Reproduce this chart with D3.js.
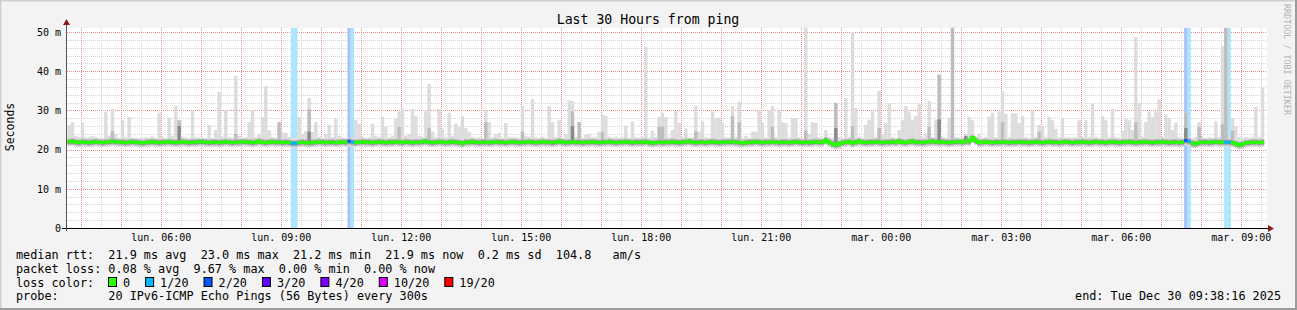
<!DOCTYPE html>
<html lang="fr">
<head>
<meta charset="UTF-8">
<title>Last 30 Hours from ping</title>
<style>
  body { margin: 0; background: #f3f3f3; }
  svg text { font-family: "DejaVu Sans Mono", monospace; white-space: pre; }
</style>
</head>
<body>
<script src="https://cdn.jsdelivr.net/npm/d3@7"></script>
<script>
// 5-minute slots from Mon 29 Dec 03:40 UTC, values in ms
const medianMs = [
  22.0,22.1,21.9,21.8,22.0,21.9,21.8,21.9,22.0,21.9,21.8,21.9,22.0,22.1,22.0,21.9,21.9,21.8,21.9,22.0,21.9,21.8,21.7,21.8,21.9,22.0,21.9,21.8,21.9,21.9,
  22.0,21.9,21.8,21.9,22.0,21.9,21.8,21.9,21.9,22.0,22.0,21.9,21.8,21.9,21.9,21.8,21.9,22.0,21.9,21.8,21.9,21.9,22.0,22.0,21.9,21.8,21.9,22.1,21.9,21.8,
  21.9,22.0,21.9,21.9,21.8,21.9,21.8,21.6,21.6,21.8,21.9,21.8,21.7,21.8,21.9,22.0,21.9,21.8,21.9,21.9,21.8,21.9,22.0,21.9,22.1,21.9,21.8,21.9,22.0,21.9,
  21.9,21.8,21.9,22.0,21.9,21.8,21.9,21.9,22.0,21.9,21.8,22.0,21.9,21.8,21.9,21.9,22.0,22.1,21.9,21.8,21.9,22.0,21.9,21.8,21.9,22.0,21.9,21.8,21.6,21.9,
  21.9,22.0,21.9,21.8,21.9,21.9,21.8,21.9,22.0,21.9,21.9,21.8,21.9,22.0,21.9,21.8,21.9,21.9,22.0,21.9,21.8,21.9,22.0,21.9,21.9,21.8,21.9,22.1,21.9,21.8,
  21.9,22.0,21.9,21.9,21.8,21.9,21.9,22.0,21.9,21.8,21.9,21.9,22.0,21.9,21.8,21.9,21.9,22.0,21.9,21.8,21.9,21.9,21.9,22.0,21.8,21.7,21.8,21.9,21.8,21.9,
  21.9,22.0,21.9,21.8,21.9,22.0,22.1,21.9,21.8,21.9,21.9,21.8,21.9,22.0,21.9,21.8,21.9,21.9,22.0,22.0,21.9,21.8,21.7,21.8,21.9,21.9,22.0,21.9,21.8,21.9,
  21.9,22.0,21.9,21.8,21.9,21.9,21.8,21.9,22.0,21.9,21.8,21.9,21.8,21.9,22.0,21.9,21.9,22.4,21.9,21.5,21.2,21.4,21.8,21.9,22.0,21.7,21.9,22.1,21.9,21.8,
  21.9,21.9,22.0,21.9,21.8,21.9,21.9,22.0,21.9,22.1,21.9,21.8,22.0,22.1,21.9,21.9,21.8,21.9,22.0,22.1,22.0,21.9,22.0,21.9,21.8,21.9,22.0,22.0,21.9,22.1,
  22.1,23.0,22.3,21.8,21.9,22.0,21.9,21.8,21.9,21.9,22.0,21.9,21.8,21.9,21.9,22.0,21.9,21.9,21.8,21.9,22.0,21.9,21.8,21.9,22.0,21.9,21.9,21.8,21.9,22.0,
  21.9,21.8,21.9,21.9,22.0,21.9,21.8,21.9,22.0,21.9,21.9,21.8,21.9,22.0,21.9,21.8,21.9,21.9,22.0,21.9,21.8,21.9,21.9,22.0,21.9,21.8,21.9,21.9,22.0,21.9,
  21.8,21.9,21.9,21.8,21.9,22.3,22.1,21.6,21.5,21.8,21.9,21.9,21.8,21.9,22.0,21.9,21.9,21.9,21.9,21.8,21.5,21.2,21.4,21.7,21.8,21.9,21.9,21.8,21.9
];

const smokeMax = [
  26.3,27.0,23.5,23.2,27.0,23.2,23.2,23.5,23.2,23.0,23.0,29.7,23.5,30.4,24.0,23.0,27.5,23.2,28.3,23.0,23.0,23.0,23.0,23.2,23.0,23.4,23.0,29.4,23.2,23.0,
  28.1,23.5,31.1,27.5,23.2,23.0,23.0,29.8,23.2,23.0,23.0,23.0,26.3,23.0,25.0,34.7,23.3,30.1,23.2,23.0,38.8,23.5,23.0,23.2,27.0,30.1,23.2,24.0,28.3,36.2,
  25.0,23.2,23.0,27.0,24.3,24.3,23.2,23.0,23.0,28.3,24.0,24.7,33.2,24.5,27.0,23.2,23.0,24.0,26.3,23.2,27.8,23.5,23.0,23.0,23.0,23.2,27.5,26.6,23.2,23.0,
  23.2,26.6,23.5,23.2,28.4,25.8,23.2,23.5,27.8,29.7,30.4,23.5,24.0,30.4,28.6,23.5,23.2,29.8,36.7,24.6,23.2,30.4,25.2,23.2,29.4,23.5,26.6,25.8,28.6,25.5,
  24.5,23.2,23.0,23.2,23.0,30.1,27.0,23.2,23.8,24.3,23.0,26.8,23.2,23.0,23.2,23.0,31.1,23.5,23.2,32.9,23.2,23.0,23.2,23.0,31.1,27.0,23.2,27.5,23.0,24.0,
  32.6,32.4,23.2,27.0,23.0,23.8,24.0,23.0,23.2,24.6,29.0,28.6,23.2,23.0,23.3,23.0,23.2,26.0,23.0,27.2,23.2,23.0,23.2,46.2,23.0,24.8,23.2,28.3,29.3,28.3,
  23.2,25.0,29.8,26.8,23.2,25.4,23.0,23.2,31.1,24.6,27.2,23.2,23.0,29.7,28.1,28.1,26.8,23.2,23.0,31.1,23.2,32.2,23.0,23.5,23.0,24.6,24.6,30.1,26.9,23.2,
  30.1,31.1,23.2,30.2,27.0,26.8,23.2,28.0,28.0,23.2,23.0,51.1,24.0,27.0,26.8,23.2,23.0,25.0,23.2,23.0,31.9,23.2,23.0,33.2,23.2,50.0,30.6,23.2,23.0,26.3,
  27.5,29.8,23.2,35.0,24.0,26.8,31.9,23.2,23.0,25.0,27.5,31.1,29.7,27.5,28.6,31.6,23.2,24.1,32.4,23.2,27.5,39.1,23.2,23.0,28.1,51.1,23.2,23.0,23.2,24.0,
  28.4,27.5,23.2,24.0,23.0,23.2,28.4,29.4,23.2,29.7,34.9,29.1,23.2,29.3,29.3,26.8,28.6,23.2,23.0,29.8,23.2,26.3,26.0,23.2,28.4,27.5,25.3,23.2,28.1,23.0,
  23.2,23.0,23.2,27.5,23.2,27.5,23.2,31.9,23.2,23.0,28.6,27.5,23.2,30.4,23.2,23.0,24.8,27.8,27.5,25.0,48.7,31.9,23.2,27.0,29.7,28.3,29.8,32.8,23.2,29.0,
  28.1,25.0,26.9,23.2,23.0,29.4,23.2,23.0,23.2,27.0,23.2,23.0,23.2,23.0,27.2,23.2,46.4,51.0,23.2,28.1,26.0,23.2,23.0,23.2,23.0,23.2,30.9,23.2,35.8
];

// [slot, top of medium-grey smoke]
const smokeMid = [[13,24.7],[33,27.5],[50,24.0],[63,27.0],[72,30.3],[99,25.8],[108,25.5],[125,27.0],[136,24.6],
  [151,29.8],[153,27.0],[160,24.5],[177,25.8],[178,25.8],[188,24.6],[199,28.6],[201,27.0],[211,25.8],[221,24.8],
  [230,31.9],[235,26.0],[243,25.5],[258,25.8],[261,39.1],[265,51.1],[280,27.0],[291,24.6],[320,27.0],[335,29.4],
  [339,25.8],[346,26.5],[347,51.0],[349,24.8]];
// [slot, top of dark-grey smoke]
const smokeDark = [[33,26.0],[72,24.6],[151,26.0],[230,25.5],[261,27.7],[269,23.5],[335,25.5]];
// [slot, lost pings out of 20]
const lossSlots = [[67,1],[68,1],[84,2],[85,1],[335,2],[336,1],[347,1],[348,1]];

const lossLabels = ["0", "1/20", "2/20", "3/20", "4/20", "10/20", "19/20"];
const lossColors = ["#26ff00", "#00b8ff", "#0059ff", "#5e00ff", "#7e00ff", "#dd00ff", "#ff0000"];
const lossLight = {1: "#aae5fb", 2: "#a7c3fa"};
const yTicks = [0, 10, 20, 30, 40, 50];

const statLines = [
  "median rtt:  21.9 ms avg  23.0 ms max  21.2 ms min  21.9 ms now  0.2 ms sd  104.8   am/s",
  "packet loss: 0.08 % avg  9.67 % max  0.00 % min  0.00 % now",
];
const probeLine = "probe:       20 IPv6-ICMP Echo Pings (56 Bytes) every 300s";
const endLine = "end: Tue Dec 30 09:38:16 2025";

const W = 1297, H = 310;
const pL = 67, pR = 1267, pT = 28, pB = 228;
const tStart = new Date(Date.UTC(2025, 11, 29, 3, 38, 16));
const tEnd = new Date(Date.UTC(2025, 11, 30, 9, 38, 16));
const slot0 = Date.UTC(2025, 11, 29, 3, 40, 0);
const step = 300e3;
const slotT = i => new Date(slot0 + i * step);

const x = d3.scaleUtc().domain([tStart, tEnd]).range([pL - 0.7, pR - 0.7]);
const y = d3.scaleLinear().domain([0, 51.02]).range([pB, pT]);

const svg = d3.select("body").append("svg")
  .attr("width", W).attr("height", H)
  .style("display", "block");

svg.append("rect").attr("width", W).attr("height", H).attr("fill", "#f3f3f3");
// 3d-ish border
svg.append("path").attr("d", `M0,${H} V0 H${W}`).attr("stroke", "#d0d0d0").attr("stroke-width", 3).attr("fill", "none");
svg.append("path").attr("d", `M0,${H - 1} H${W - 1} V0`).attr("stroke", "#9c9c9c").attr("stroke-width", 2).attr("fill", "none");

svg.append("rect").attr("x", pL).attr("y", pT).attr("width", pR - pL).attr("height", pB - pT).attr("fill", "#fff");

const snap = v => Math.round(v) + 0.5;
const grid = svg.append("g").attr("shape-rendering", "crispEdges");

// minor grid
const halfHours = d3.utcMinute.every(30).range(tStart, tEnd);
grid.selectAll(".vmin").data(halfHours.filter(d => d.getUTCMinutes() === 30)).join("line")
  .attr("x1", d => snap(x(d))).attr("x2", d => snap(x(d)))
  .attr("y1", pT).attr("y2", pB)
  .attr("stroke", "#d2d2d2").attr("stroke-dasharray", "1,1");
const yMinor = d3.range(2, 51, 2).filter(v => v % 10 !== 0);
grid.selectAll(".hmin").data(yMinor).join("line")
  .attr("x1", pL).attr("x2", pR)
  .attr("y1", d => snap(y(d))).attr("y2", d => snap(y(d)))
  .attr("stroke", "#d2d2d2").attr("stroke-dasharray", "1,1");
// major grid
const hours = d3.utcHour.range(tStart, tEnd);
grid.selectAll(".vmaj").data(hours).join("line")
  .attr("x1", d => snap(x(d))).attr("x2", d => snap(x(d)))
  .attr("y1", pT).attr("y2", pB)
  .attr("stroke", "#f08a8a").attr("stroke-dasharray", "1,1");
grid.selectAll(".hmaj").data(yTicks.filter(v => v > 0)).join("line")
  .attr("x1", pL).attr("x2", pR)
  .attr("y1", d => snap(y(d))).attr("y2", d => snap(y(d)))
  .attr("stroke", "#f08a8a").attr("stroke-dasharray", "1,1");

// loss background columns
svg.append("g").selectAll("rect").data(lossSlots).join("rect")
  .attr("x", d => x(slotT(d[0])))
  .attr("width", d => x(slotT(d[0] + 1)) - x(slotT(d[0])))
  .attr("y", pT).attr("height", pB - pT)
  .attr("fill", d => lossLight[d[1]]);

// smoke
const midMap = new Map(smokeMid), darkMap = new Map(smokeDark);
const slots = d3.range(medianMs.length);
const smoke = svg.append("g");
function band(cls, color, lo, hi) {
  smoke.selectAll("." + cls).data(slots).join("rect").attr("class", cls)
    .attr("x", i => x(slotT(i)))
    .attr("width", i => x(slotT(i + 1)) - x(slotT(i)) + 0.05)
    .attr("y", i => y(hi(i)))
    .attr("height", i => Math.max(0, y(lo(i)) - y(hi(i))))
    .attr("fill", color);
}
band("s1", "#dcdcdc", i => medianMs[i] - 1.2, i => smokeMax[i]);
band("s2", "#bdbdbd", i => medianMs[i] - 0.9, i => midMap.get(i) ?? medianMs[i] + 0.8);
band("s3", "#8a8a8a", i => medianMs[i] - 0.55, i => darkMap.get(i) ?? medianMs[i] + 0.5);

// median line coloured by loss
const lossOf = new Map(lossSlots);
const pts = [];
slots.forEach(i => {
  pts.push({ t: slotT(i), v: medianMs[i], l: lossOf.get(i) || 0 });
  pts.push({ t: slotT(i + 1), v: medianMs[i], l: lossOf.get(i) || 0 });
});
[0, 1, 2].forEach(lv => {
  const line = d3.line().defined(p => p.l === lv).x(p => x(p.t)).y(p => y(p.v));
  svg.append("path").attr("d", line(pts))
    .attr("fill", "none").attr("stroke", lossColors[lv]).attr("stroke-width", 3)
    .attr("stroke-linejoin", "miter");
});

// axes
svg.append("line").attr("x1", 62).attr("x2", 1269).attr("y1", pB + 0.5).attr("y2", pB + 0.5).attr("stroke", "#000");
svg.append("line").attr("x1", pL - 0.5).attr("x2", pL - 0.5).attr("y1", pB + 3).attr("y2", 24).attr("stroke", "#555");
svg.append("path").attr("d", `M1268,${pB - 3} L1274,${pB + 0.5} L1268,${pB + 4} Z`).attr("fill", "#8b1a1a");
svg.append("path").attr("d", `M${pL - 4},25 L${pL - 0.5},19 L${pL + 3},25 Z`).attr("fill", "#8b1a1a");

const fr = d3.timeFormatLocale({
  dateTime: "%a %e %b %Y %X", date: "%d/%m/%Y", time: "%H:%M:%S", periods: ["AM", "PM"],
  days: ["dimanche", "lundi", "mardi", "mercredi", "jeudi", "vendredi", "samedi"],
  shortDays: ["dim.", "lun.", "mar.", "mer.", "jeu.", "ven.", "sam."],
  months: ["janvier", "février", "mars", "avril", "mai", "juin", "juillet", "août", "septembre", "octobre", "novembre", "décembre"],
  shortMonths: ["janv.", "févr.", "mars", "avr.", "mai", "juin", "juil.", "août", "sept.", "oct.", "nov.", "déc."]
});
const xAxis = d3.axisBottom(x).ticks(d3.utcHour.every(3)).tickFormat(fr.utcFormat("%a %H:%M")).tickSize(0).tickPadding(6);
const gx = svg.append("g").attr("transform", `translate(0,${pB})`).call(xAxis);
gx.select(".domain").remove();
gx.selectAll("text").attr("font-size", 10).attr("fill", "#000").attr("font-family", "DejaVu Sans Mono");

const yAxis = d3.axisLeft(y).tickValues(yTicks).tickFormat(d => d === 0 ? "0" : d + " m").tickSize(0).tickPadding(6);
const gy = svg.append("g").attr("transform", `translate(${pL},0)`).call(yAxis);
gy.select(".domain").remove();
gy.selectAll("text").attr("font-size", 10).attr("fill", "#000").attr("font-family", "DejaVu Sans Mono");

// texts
svg.append("text").attr("x", 648).attr("y", 23.5).attr("text-anchor", "middle")
  .attr("font-size", 13.2).text("Last 30 Hours from ping");
svg.append("text").attr("transform", "translate(14,127) rotate(-90)").attr("text-anchor", "middle")
  .attr("font-size", 11.5).text("Seconds");
svg.append("text").attr("transform", "translate(1284,4) rotate(90)").attr("font-size", 8.4)
  .attr("fill", "#b4b4b4").text("RRDTOOL / TOBI OETIKER");

const fs = 11.8;
statLines.forEach((s, k) => {
  svg.append("text").attr("x", 16).attr("y", 258.5 + k * 14).attr("font-size", fs).text(s);
});
svg.append("text").attr("x", 16).attr("y", 300).attr("font-size", fs).text(probeLine);
svg.append("text").attr("x", 1281).attr("y", 300).attr("text-anchor", "end").attr("font-size", fs).text(endLine);

svg.append("text").attr("x", 16).attr("y", 286.5).attr("font-size", fs).text("loss color:");
let bx = 108.5;
lossLabels.forEach((lab, k) => {
  svg.append("rect").attr("x", bx).attr("y", 277.5).attr("width", 8).attr("height", 9)
    .attr("fill", lossColors[k]).attr("stroke", "#000");
  const t = svg.append("text").attr("x", bx + 14.5).attr("y", 286.5).attr("font-size", fs).text(lab);
  bx = bx + 14.5 + t.node().getComputedTextLength() + 15.5;
});
</script>
</body>
</html>
